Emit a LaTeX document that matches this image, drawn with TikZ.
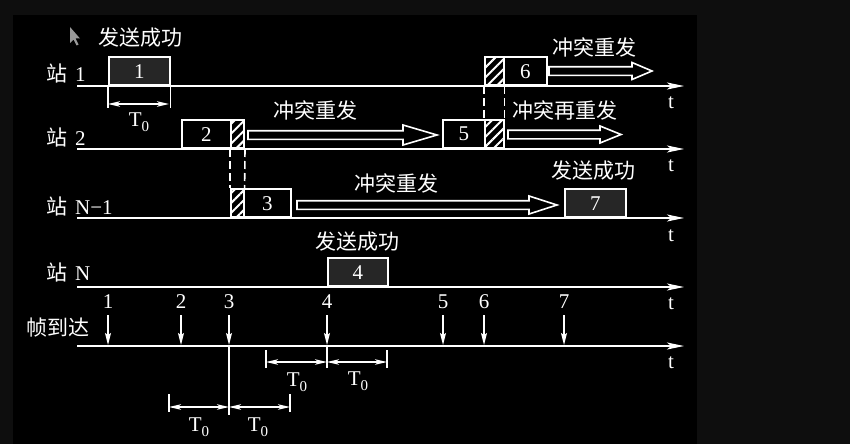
\documentclass[tikz,border=0pt]{standalone}
\usepackage{fontspec}
\setmainfont{Liberation Serif}
\newfontfamily\cjk{Noto Sans CJK SC}
\usetikzlibrary{arrows.meta,patterns.meta}
\definecolor{dkfill}{HTML}{262626}
\definecolor{outerbg}{HTML}{0E0E0E}
\newcommand{\harrow}[5]{%
  \draw[hol] (#1,#3-4.3) -- (#2-#4,#3-4.3) -- (#2-#4,#3-#5) -- (#2,#3) -- (#2-#4,#3+#5) -- (#2-#4,#3+4.3) -- (#1,#3+4.3) -- cycle;}
\newcommand{\Tzero}{T\raisebox{-5pt}{\fontsize{15}{15}\selectfont 0}}
\begin{document}
\begin{tikzpicture}[x=1pt,y=-1pt,
  every node/.style={text=white, inner sep=0pt},
  ln/.style={draw=white, line width=1.6pt},
  axis/.style={ln, -{Stealth[length=17pt,width=7pt,inset=4pt]}},
  frm/.style={draw=white, line width=1.6pt, minimum height=28pt, anchor=south west, font=\fontsize{21}{22}\selectfont},
  hatch/.style={frm, pattern={Lines[angle=45,distance=7pt,line width=2pt]}, pattern color=white},
  dsh/.style={draw=white, line width=1.6pt, dash pattern=on 8pt off 4pt},
  hol/.style={draw=white, line width=1.6pt},
  cn/.style={font=\cjk\fontsize{21}{24}\selectfont},
  lat/.style={font=\fontsize{21}{24}\selectfont},
  tl/.style={font=\fontsize{21}{24}\selectfont},
  arr/.style={draw=white, line width=1.3pt, -{Stealth[length=12pt,width=6pt,inset=2pt]}},
  dim/.style={draw=white, line width=1.3pt, {Stealth[length=12pt,width=5.5pt,inset=3pt]}-{Stealth[length=12pt,width=5.5pt,inset=3pt]}},
  tick/.style={draw=white, line width=1.3pt},
]
\useasboundingbox (0,0) rectangle (850,444);
\fill[outerbg] (0,0) rectangle (850,444);
\fill[black] (13,15) rectangle (697,444);

% cursor
\fill[gray!80] (70,27) -- (70,43) -- (73.5,39.5) -- (76.5,45.5) -- (78.5,44.5) -- (75.5,38.5) -- (80,38.5) -- cycle;

% station labels
\node[anchor=west] (s1) at (46,73) {{\cjk\fontsize{21}{24}\selectfont 站}\hspace{8pt}{\fontsize{21}{24}\selectfont 1}};
\node[anchor=west] (s2) at (46,137) {{\cjk\fontsize{21}{24}\selectfont 站}\hspace{8pt}{\fontsize{21}{24}\selectfont 2}};
\node[anchor=west] (s3) at (46,206) {{\cjk\fontsize{21}{24}\selectfont 站}\hspace{8pt}{\fontsize{21}{24}\selectfont N−1}};
\node[anchor=west] (s4) at (46,272) {{\cjk\fontsize{21}{24}\selectfont 站}\hspace{8pt}{\fontsize{21}{24}\selectfont N}};
\node[cn] (s5) at (58,328) {帧到达};

% axes
\coordinate (a1s) at (77,86);  \coordinate (a1e) at (684,86);
\coordinate (a2s) at (77,149); \coordinate (a2e) at (684,149);
\coordinate (a3s) at (77,218); \coordinate (a3e) at (684,218);
\coordinate (a4s) at (77,287); \coordinate (a4e) at (684,287);
\coordinate (a5s) at (77,346); \coordinate (a5e) at (684,346);
\draw[axis] (a1s) -- (a1e);
\draw[axis] (a2s) -- (a2e);
\draw[axis] (a3s) -- (a3e);
\draw[axis] (a4s) -- (a4e);
\draw[axis] (a5s) -- (a5e);
\node[tl] (t1) at (671,103) {t};
\node[tl] (t2) at (671,166) {t};
\node[tl] (t3) at (671,236) {t};
\node[tl] (t4) at (671,304) {t};
\node[tl] (t5) at (671,363) {t};

% frames
\node[frm, fill=dkfill, minimum width=61pt] (f1) at (108,86) {1};
\node[frm, fill=black, minimum width=49pt] (f2) at (181,149) {2};
\node[hatch, minimum width=13pt] (h2) at (230,149) {};
\node[hatch, minimum width=13pt] (h3) at (230,218) {};
\node[frm, fill=black, minimum width=47pt] (f3) at (243,218) {3};
\node[frm, fill=dkfill, minimum width=60pt] (f4) at (327,287) {4};
\node[frm, fill=black, minimum width=42pt] (f5) at (442,149) {5};
\node[hatch, minimum width=19pt] (h5) at (484,149) {};
\node[hatch, minimum width=19pt] (h6) at (484,86) {};
\node[frm, fill=black, minimum width=43pt] (f6) at (503,86) {6};
\node[frm, fill=dkfill, minimum width=61pt] (f7) at (564,218) {7};

% dashed collision links
\draw[dsh] (h2.south west) -- (h3.north west);
\draw[dsh] (h2.south east) -- (h3.north east);
\draw[dsh] (h6.south west) -- (h5.north west);
\draw[dsh] (h6.south east) -- (h5.north east);

% hollow arrows
\harrow{248}{437}{135}{34}{10}
\harrow{297}{557}{205}{28}{9}
\harrow{549}{652}{71}{20}{8.5}
\harrow{508}{621}{134.5}{21}{8.5}

% text labels
\node[cn] (l1) at (140,38) {发送成功};
\node[cn] (l2) at (315,110) {冲突重发};
\node[cn] (l3) at (396,183) {冲突重发};
\node[cn] (l4) at (357,242) {发送成功};
\node[cn] (l5) at (594,47) {冲突重发};
\node[cn] (l6) at (565,110) {冲突再重发};
\node[cn] (l7) at (593,171) {发送成功};

% T0 under frame 1
\draw[tick] (f1.south west) -- ++(0,22);
\draw[tick] (f1.south east) -- ++(0,22);
\coordinate (d1a) at (108,104); \coordinate (d1b) at (169,104);
\draw[dim] (d1a) -- (d1b);
\node[lat] (T1) at (139,122) {\Tzero};

% frame arrivals
\foreach \n/\x in {1/108,2/181,3/229,4/327,5/443,6/484,7/564}{
  \node[lat] (n\n) at (\x,302) {\n};
  \coordinate (e\n) at (\x,345);
  \draw[arr] (n\n.south) ++(0,6) -- (e\n);
}

% vertical line at arrival 3
\coordinate (v3) at (229,415);
\draw[tick] (e3) -- (v3);

% lower T0 dimensions
\coordinate (b1) at (169,407); \coordinate (b2) at (229,407); \coordinate (b3) at (290,407);
\draw[tick] (169,394) -- (169,412);
\draw[tick] (290,394) -- (290,412);
\draw[dim] (b1) -- (b2);
\draw[dim] (b2) -- (b3);
\node[lat] (T2) at (199,427) {\Tzero};
\node[lat] (T3) at (258,427) {\Tzero};

% upper T0 dimensions
\coordinate (c1) at (266,362); \coordinate (c2) at (327,362); \coordinate (c3) at (387,362);
\draw[tick] (266,350) -- (266,368);
\draw[tick] (327,346) -- (327,368);
\draw[tick] (387,350) -- (387,368);
\draw[dim] (c1) -- (c2);
\draw[dim] (c2) -- (c3);
\node[lat] (T4) at (297,382) {\Tzero};
\node[lat] (T5) at (358,381) {\Tzero};
\end{tikzpicture}
\end{document}
